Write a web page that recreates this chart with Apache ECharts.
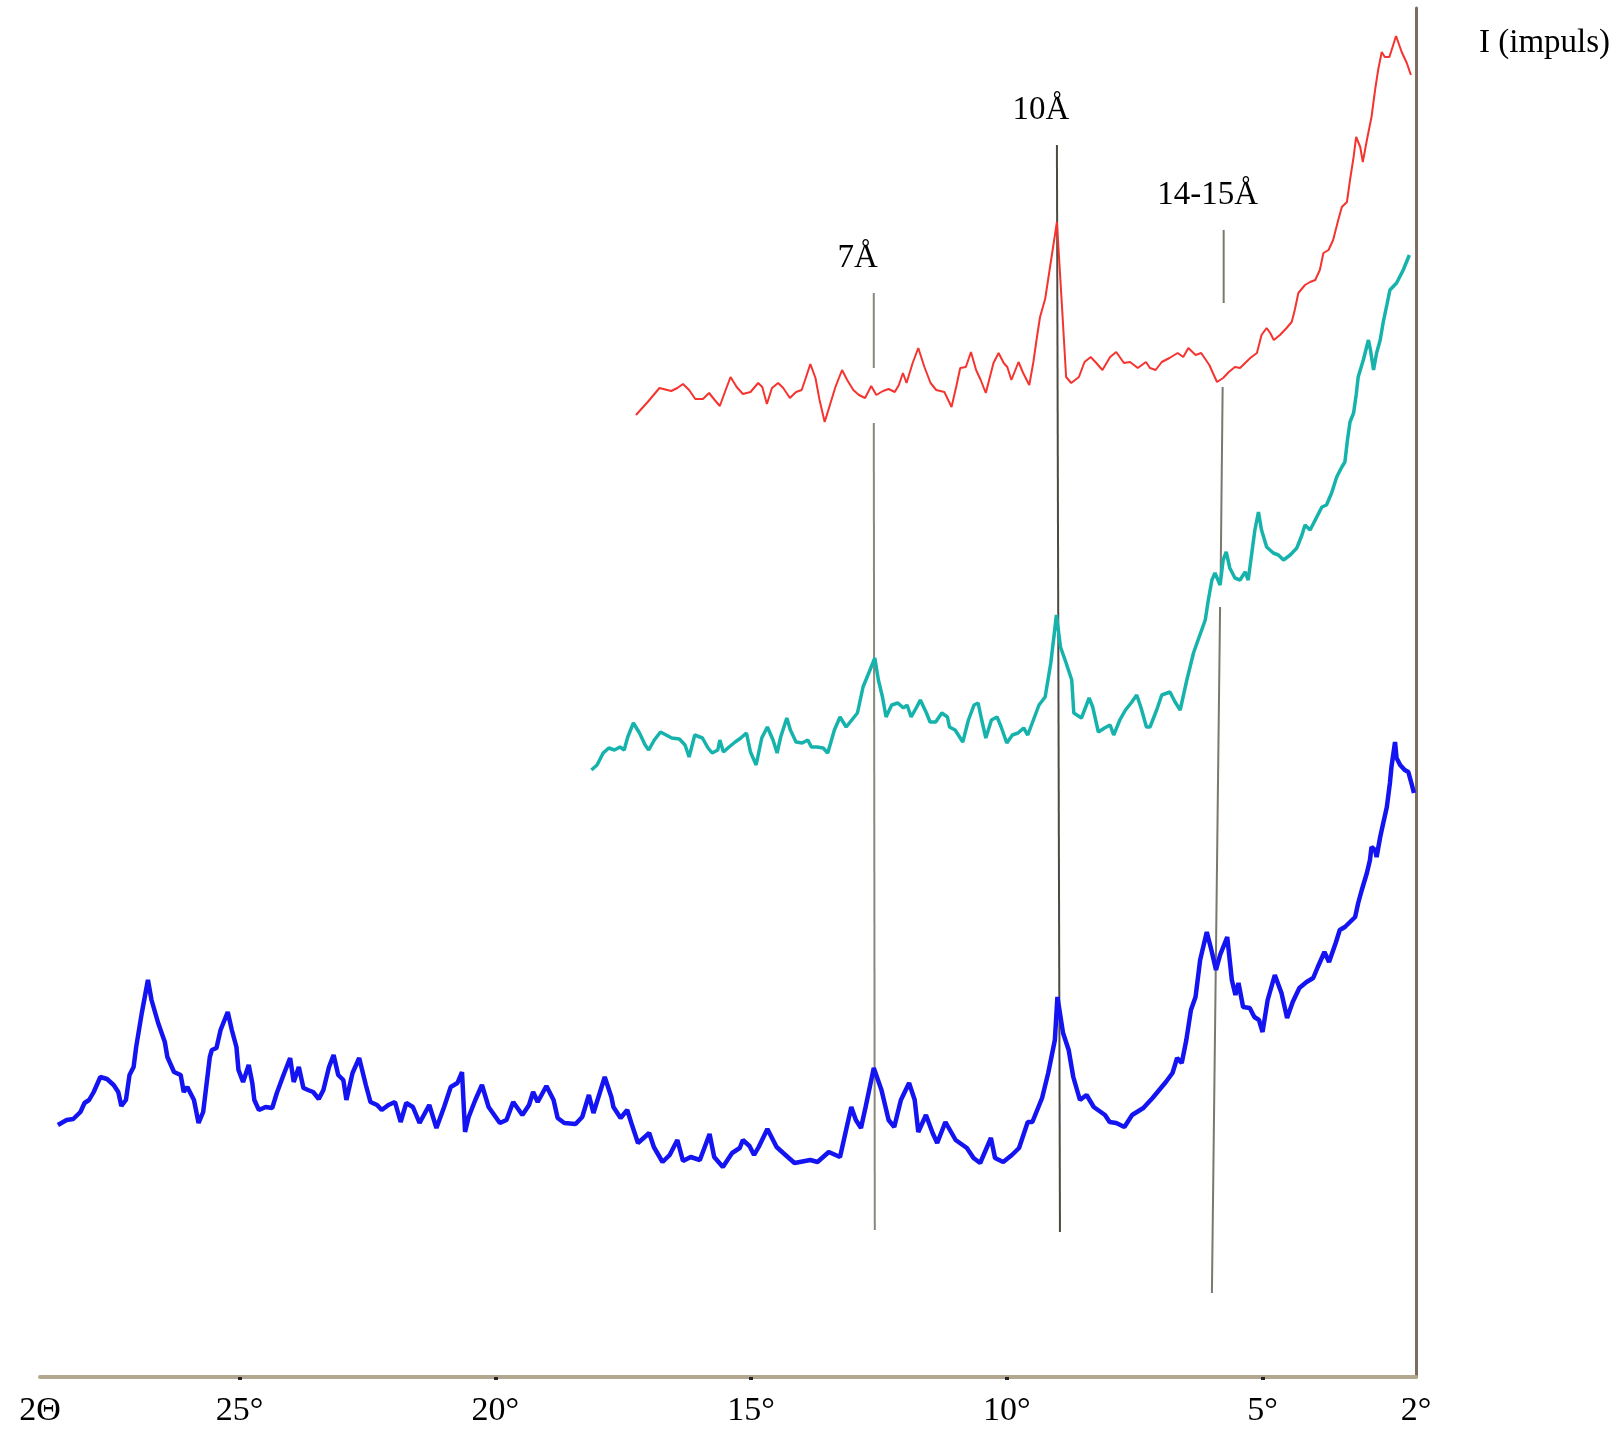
<!DOCTYPE html>
<html>
<head>
<meta charset="utf-8">
<script src="https://cdn.jsdelivr.net/npm/echarts@6/dist/echarts.min.js"></script>
<style>
  html, body { margin: 0; padding: 0; background: #fff; }
  #chart { width: 1624px; height: 1434px; }
</style>
</head>
<body>
<div id="chart"></div>
<script>
// 2θ (deg) , intensity (arbitrary units)
var redCurve = [[17.25,962],[17.02,975],[16.79,989],[16.56,986],[16.44,989],[16.33,993],[16.21,987],[16.09,978],[15.94,978],[15.82,984],[15.71,977],[15.61,971],[15.51,985],[15.40,1000],[15.28,990],[15.16,983],[15.01,985],[14.86,994],[14.78,990],[14.69,973],[14.59,989],[14.47,994],[14.37,989],[14.24,979],[14.12,985],[14.01,987],[13.93,999],[13.84,1013],[13.74,999],[13.66,977],[13.56,955],[13.47,970],[13.35,990],[13.22,1007],[13.12,997],[13.00,987],[12.89,982],[12.77,979],[12.65,991],[12.55,982],[12.42,986],[12.31,988],[12.19,985],[12.11,992],[12.03,1004],[11.96,994],[11.84,1014],[11.73,1029],[11.61,1010],[11.49,994],[11.38,987],[11.22,985],[11.08,970],[10.99,990],[10.91,1009],[10.80,1010],[10.70,1025],[10.60,1007],[10.51,997],[10.41,984],[10.33,1000],[10.26,1014],[10.16,1024],[10.06,1014],[9.99,1010],[9.91,997],[9.77,1015],[9.68,1004],[9.56,992],[9.48,1015],[9.41,1040],[9.35,1060],[9.25,1078],[9.02,1155],[8.92,1070],[8.84,1000],[8.74,994],[8.59,1000],[8.48,1015],[8.36,1020],[8.25,1014],[8.13,1007],[7.98,1020],[7.86,1025],[7.71,1014],[7.59,1015],[7.44,1009],[7.28,1015],[7.20,1009],[7.09,1007],[6.97,1015],[6.82,1019],[6.66,1024],[6.55,1020],[6.45,1029],[6.31,1022],[6.20,1024],[6.04,1012],[5.97,1004],[5.89,995],[5.77,999],[5.66,1005],[5.54,1010],[5.44,1009],[5.38,1012],[5.24,1019],[5.11,1024],[5.02,1042],[4.92,1049],[4.85,1044],[4.78,1037],[4.66,1042],[4.53,1049],[4.43,1055],[4.37,1067],[4.30,1084],[4.17,1092],[4.07,1095],[3.97,1097],[3.88,1107],[3.81,1124],[3.71,1127],[3.62,1137],[3.52,1157],[3.45,1170],[3.35,1175],[3.29,1197],[3.22,1220],[3.17,1240],[3.09,1230],[3.04,1215],[2.96,1237],[2.87,1260],[2.80,1287],[2.74,1307],[2.67,1325],[2.61,1320],[2.52,1320],[2.39,1341],[2.28,1325],[2.18,1314],[2.10,1302]]

var tealCurve = [[18.12,607],[18.01,612],[17.89,624],[17.78,629],[17.67,627],[17.56,630],[17.48,627],[17.41,640],[17.30,654],[17.18,644],[17.07,632],[17.00,627],[16.89,637],[16.77,645],[16.66,642],[16.55,639],[16.40,638],[16.29,632],[16.21,620],[16.10,642],[15.95,639],[15.84,629],[15.76,624],[15.65,627],[15.61,637],[15.54,625],[15.43,630],[15.31,635],[15.20,639],[15.09,644],[15.01,625],[14.90,612],[14.79,639],[14.68,650],[14.57,637],[14.49,624],[14.42,640],[14.30,659],[14.23,647],[14.12,635],[14.00,634],[13.89,637],[13.82,630],[13.71,630],[13.59,629],[13.50,624],[13.37,647],[13.26,660],[13.14,650],[13.03,657],[12.92,664],[12.81,690],[12.69,705],[12.58,719],[12.51,697],[12.43,680],[12.36,660],[12.25,672],[12.13,674],[12.02,669],[11.95,672],[11.87,660],[11.76,670],[11.69,677],[11.57,664],[11.50,655],[11.39,655],[11.27,664],[11.16,660],[11.12,650],[11.01,647],[10.86,635],[10.75,657],[10.64,672],[10.56,674],[10.49,657],[10.41,639],[10.30,657],[10.19,660],[10.11,650],[10.00,634],[9.89,642],[9.78,644],[9.67,649],[9.59,642],[9.48,657],[9.37,672],[9.25,680],[9.14,714],[9.07,744],[9.03,762],[8.95,730],[8.84,714],[8.73,697],[8.69,664],[8.54,659],[8.39,679],[8.32,670],[8.21,645],[8.09,649],[7.98,652],[7.91,642],[7.79,657],[7.68,667],[7.57,674],[7.46,682],[7.38,670],[7.27,650],[7.20,650],[7.07,667],[6.97,682],[6.81,685],[6.71,675],[6.61,667],[6.48,697],[6.35,724],[6.26,737],[6.12,757],[6.06,777],[5.99,797],[5.93,804],[5.83,792],[5.77,817],[5.71,825],[5.64,809],[5.54,799],[5.44,797],[5.34,805],[5.28,797],[5.21,824],[5.15,847],[5.08,865],[5.02,847],[4.92,830],[4.79,824],[4.69,822],[4.59,817],[4.46,822],[4.33,829],[4.23,842],[4.17,852],[4.07,847],[3.94,860],[3.84,870],[3.75,872],[3.65,884],[3.55,900],[3.45,910],[3.39,915],[3.34,937],[3.29,955],[3.22,964],[3.17,982],[3.13,1000],[3.03,1017],[2.93,1037],[2.89,1027],[2.83,1007],[2.77,1024],[2.70,1037],[2.64,1055],[2.57,1072],[2.51,1087],[2.38,1094],[2.25,1107],[2.13,1122]]

var blueCurve = [[28.55,252],[28.38,257],[28.25,258],[28.11,265],[28.03,274],[27.94,277],[27.85,285],[27.72,300],[27.59,298],[27.46,292],[27.37,285],[27.31,271],[27.22,277],[27.15,302],[27.07,310],[27.02,330],[26.91,364],[26.79,397],[26.72,377],[26.59,354],[26.46,335],[26.41,320],[26.28,305],[26.15,302],[26.09,285],[26.02,290],[25.89,277],[25.80,254],[25.71,265],[25.58,320],[25.54,327],[25.45,329],[25.37,347],[25.23,365],[25.15,347],[25.06,330],[25.02,307],[24.93,295],[24.82,312],[24.75,294],[24.71,277],[24.62,267],[24.49,270],[24.36,269],[24.27,284],[24.14,302],[24.01,319],[23.94,295],[23.84,310],[23.75,289],[23.66,287],[23.56,285],[23.45,278],[23.36,287],[23.25,310],[23.16,322],[23.07,302],[22.97,297],[22.91,277],[22.79,304],[22.66,319],[22.53,292],[22.44,275],[22.31,272],[22.22,267],[22.09,272],[21.96,275],[21.85,255],[21.74,274],[21.61,270],[21.48,254],[21.29,272],[21.15,249],[21.00,270],[20.87,290],[20.74,294],[20.65,305],[20.59,245],[20.52,260],[20.39,277],[20.26,292],[20.13,270],[19.91,254],[19.78,257],[19.65,275],[19.47,262],[19.34,272],[19.26,285],[19.17,275],[19.00,291],[18.86,277],[18.78,259],[18.65,254],[18.43,253],[18.30,260],[18.17,282],[18.08,264],[17.86,300],[17.73,280],[17.69,270],[17.55,259],[17.42,267],[17.34,254],[17.21,234],[16.99,244],[16.90,230],[16.73,215],[16.59,222],[16.44,237],[16.33,216],[16.18,220],[16.00,217],[15.81,243],[15.72,220],[15.55,210],[15.37,224],[15.22,229],[15.16,237],[15.03,231],[14.94,222],[14.85,230],[14.68,248],[14.50,230],[14.37,224],[14.15,214],[13.84,217],[13.70,215],[13.48,225],[13.26,220],[13.04,270],[12.95,257],[12.85,249],[12.76,270],[12.60,309],[12.45,287],[12.31,257],[12.20,250],[12.07,277],[11.91,294],[11.80,277],[11.73,245],[11.58,262],[11.45,244],[11.36,234],[11.20,255],[11.00,237],[10.78,229],[10.65,219],[10.52,214],[10.31,239],[10.23,219],[10.07,215],[9.90,222],[9.76,229],[9.59,255],[9.50,255],[9.31,279],[9.19,304],[9.06,337],[9.01,380],[8.90,344],[8.79,327],[8.70,300],[8.57,277],[8.44,282],[8.30,270],[8.08,262],[7.99,255],[7.86,254],[7.70,250],[7.55,262],[7.33,269],[7.15,279],[7.02,287],[6.89,295],[6.76,304],[6.67,319],[6.58,314],[6.49,337],[6.40,367],[6.31,380],[6.22,417],[6.09,445],[6.00,427],[5.91,407],[5.83,422],[5.69,440],[5.60,397],[5.53,382],[5.47,394],[5.38,370],[5.25,369],[5.16,360],[5.07,357],[5.00,345],[4.90,377],[4.76,402],[4.63,384],[4.52,359],[4.41,375],[4.28,389],[4.14,395],[4.01,399],[3.92,410],[3.79,425],[3.70,415],[3.57,434],[3.49,447],[3.39,450],[3.29,455],[3.19,460],[3.13,474],[3.06,487],[2.96,504],[2.90,517],[2.87,530],[2.80,527],[2.77,520],[2.70,540],[2.64,554],[2.57,570],[2.51,594],[2.48,610],[2.41,635],[2.38,619],[2.31,612],[2.22,607],[2.15,605],[2.08,592],[2.04,584]]

// d-spacing marker lines, each one a list of segments (2θ, intensity)
var refNames = ['7Å', '10Å', '14-15Å']
var refSegments = [
  [[[12.60, 1084], [12.60, 1009]], [[12.60, 954], [12.58, 147]]],
  [[[9.02, 1232], [8.96, 145]]],
  [[[5.76, 1147], [5.76, 1074]], [[5.78, 990], [5.82, 795]], [[5.83, 770], [5.99, 84]]]
]

var xTicks = [25, 20, 15, 10, 5]
var xLabels = [28.9, 25, 20, 15, 10, 5, 2]

var serif = 'Liberation Serif'
var refColors = ['#8a877c', '#4d4943', '#7c7870']

var series = []
refSegments.forEach(function (segs, i) {
  segs.forEach(function (seg) {
    series.push({
      type: 'line',
      data: seg,
      showSymbol: false,
      silent: true,
      z: 1,
      lineStyle: { color: refColors[i], width: 2 }
    })
  })
})
// labels above the marker lines
series.push({
  type: 'scatter',
  symbolSize: 0,
  z: 5,
  itemStyle: { opacity: 1 },
  data: refNames.map(function (n, i) {
    return { name: n, value: refSegments[i][0][0] }
  }),
  label: {
    show: true,
    position: 'top',
    distance: 18,
    offset: [-16, 0],
    formatter: '{b}',
    fontFamily: serif,
    fontSize: 33,
    color: '#000'
  }
})
series.push({
  type: 'line', data: redCurve, showSymbol: false, z: 3,
  lineStyle: { color: '#f5332f', width: 2 }
})
series.push({
  type: 'line', data: tealCurve, showSymbol: false, z: 3,
  lineStyle: { color: '#16b2ac', width: 3.5 }
})
series.push({
  type: 'line', data: blueCurve, showSymbol: false, z: 3,
  lineStyle: { color: '#1414f2', width: 4.5 }
})

var myChart = echarts.init(document.getElementById('chart'))
myChart.setOption({
  animation: false,
  title: {
    text: 'I (impuls)',
    left: 1474,
    top: 22,
    textStyle: { fontFamily: serif, fontSize: 33, fontWeight: 'normal', color: '#000' }
  },
  grid: { left: 40, right: 208, top: 8, bottom: 57, containLabel: false },
  xAxis: {
    type: 'value',
    inverse: true,
    min: 2,
    max: 28.9,
    splitLine: { show: false },
    axisLine: { lineStyle: { color: '#b3a88f', width: 4 } },
    axisTick: {
      customValues: xTicks,
      length: 3,
      lineStyle: { color: '#222', width: 4 }
    },
    axisLabel: {
      customValues: xLabels,
      margin: 17,
      fontFamily: serif,
      fontSize: 34,
      color: '#000',
      formatter: function (v) {
        return v === 28.9 ? '2Θ' : v + '°'
      }
    }
  },
  yAxis: {
    type: 'value',
    min: 0,
    max: 1369,
    position: 'right',
    splitLine: { show: false },
    axisTick: { show: false },
    axisLabel: { show: false },
    axisLine: { show: true, lineStyle: { color: '#7d6c60', width: 3 } }
  },
  series: series
})
</script>
</body>
</html>
